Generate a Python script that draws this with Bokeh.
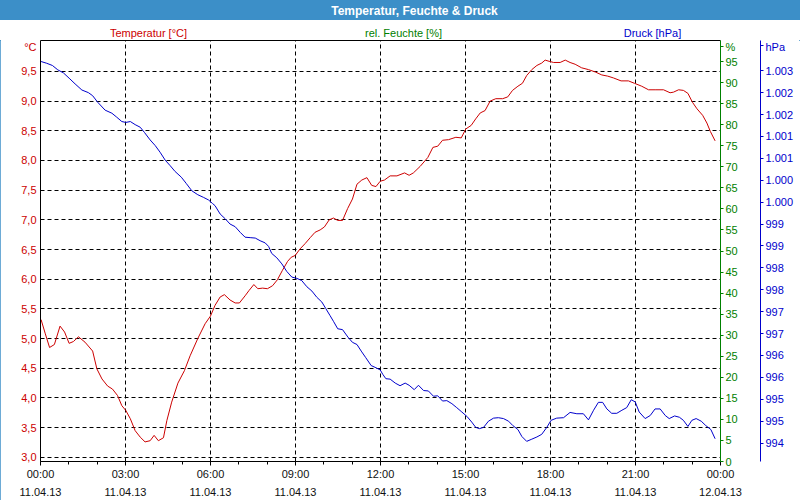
import datetime as dt
from bokeh.plotting import figure
from bokeh.layouts import column
from bokeh.models import Range1d, LinearAxis, FixedTicker, CustomJSTickFormatter
from bokeh.core.properties import value
from bokeh.embed import file_html
from bokeh.resources import INLINE

# ---------------- data ----------------
title_text = "Temperatur, Feuchte & Druck"
series_names = ["Temperatur [°C]", "rel. Feuchte [%]", "Druck [hPa]"]

temp_hours = [0.02, 0.17, 0.32, 0.49, 0.69, 0.85, 1.01, 1.16, 1.34, 1.57, 1.84, 1.99, 2.17, 2.37,
              2.54, 2.72, 2.87, 3.01, 3.17, 3.34, 3.52, 3.69, 3.87, 4.01, 4.16, 4.34, 4.46, 4.63,
              4.85, 5.08, 5.28, 5.55, 5.81, 6.00, 6.16, 6.34, 6.49, 6.69, 6.87, 7.02, 7.22, 7.36,
              7.53, 7.67, 7.84, 8.01, 8.19, 8.36, 8.54, 8.72, 8.85, 8.99, 9.16, 9.34, 9.52, 9.69,
              9.87, 10.02, 10.19, 10.34, 10.49, 10.66, 10.84, 11.01, 11.17, 11.34, 11.52, 11.69,
              11.84, 11.99, 12.14, 12.34, 12.58, 12.85, 13.01, 13.16, 13.40, 13.67, 13.85, 14.02,
              14.19, 14.40, 14.66, 14.85, 15.01, 15.20, 15.36, 15.52, 15.69, 15.87, 16.07, 16.31,
              16.49, 16.66, 16.85, 17.01, 17.16, 17.34, 17.52, 17.69, 17.81, 17.95, 18.11, 18.34,
              18.52, 18.69, 18.87, 19.10, 19.34, 19.58, 19.81, 20.02, 20.22, 20.49, 20.75, 20.96,
              21.22, 21.46, 21.72, 21.99, 22.22, 22.34, 22.52, 22.69, 22.85, 23.01, 23.17, 23.37,
              23.52, 23.64, 23.81]
temp_values = [5.32, 5.08, 4.85, 4.90, 5.21, 5.11, 4.92, 4.95, 5.03, 4.94, 4.79, 4.49, 4.32, 4.20,
               4.15, 4.04, 3.87, 3.79, 3.65, 3.45, 3.34, 3.26, 3.28, 3.37, 3.28, 3.33, 3.62, 3.93,
               4.25, 4.46, 4.71, 5.00, 5.25, 5.38, 5.56, 5.70, 5.74, 5.65, 5.60, 5.60, 5.72, 5.81,
               5.91, 5.84, 5.85, 5.84, 5.89, 5.99, 6.15, 6.30, 6.37, 6.40, 6.51, 6.60, 6.70, 6.79,
               6.83, 6.88, 7.00, 7.03, 6.99, 6.99, 7.19, 7.35, 7.60, 7.67, 7.71, 7.58,
               7.56, 7.65, 7.67, 7.74, 7.74, 7.79, 7.75, 7.79, 7.90, 8.05, 8.22, 8.24,
               8.34, 8.35, 8.39, 8.38, 8.53, 8.59, 8.70, 8.80, 8.84, 9.00, 9.04, 9.04,
               9.07, 9.18, 9.25, 9.30, 9.43, 9.53, 9.60, 9.64, 9.69, 9.67, 9.65, 9.65,
               9.69, 9.65, 9.62, 9.56, 9.53, 9.49, 9.44, 9.42, 9.39, 9.34, 9.34, 9.30,
               9.25, 9.19, 9.19, 9.19, 9.14, 9.15, 9.19, 9.18, 9.13, 8.98, 8.87, 8.76,
               8.63, 8.49, 8.33]

pres_hours = [0.02, 0.22, 0.42, 0.61, 0.81, 1.01, 1.22, 1.46, 1.69, 1.84, 2.02, 2.28, 2.52, 2.69,
              2.87, 3.01, 3.17, 3.34, 3.52, 3.67, 3.87, 4.05, 4.22, 4.40, 4.58, 4.75, 4.97, 5.14,
              5.34, 5.55, 5.75, 5.93, 6.07, 6.16, 6.34, 6.52, 6.69, 6.87, 7.05, 7.22, 7.40, 7.58,
              7.75, 7.93, 8.05, 8.16, 8.34, 8.52, 8.69, 8.87, 9.05, 9.22, 9.40, 9.58, 9.75, 9.93,
              10.07, 10.22, 10.34, 10.49, 10.66, 10.85, 11.01, 11.17, 11.32, 11.48, 11.67, 11.84,
              11.99, 12.08, 12.19, 12.34, 12.52, 12.69, 12.87, 13.01, 13.19, 13.34, 13.52, 13.69,
              13.87, 14.02, 14.19, 14.34, 14.52, 14.69, 14.87, 15.05, 15.22, 15.36, 15.49, 15.64,
              15.81, 15.99, 16.16, 16.34, 16.52, 16.67, 16.85, 16.99, 17.16, 17.34, 17.52, 17.69,
              17.87, 18.02, 18.22, 18.46, 18.69, 18.93, 19.16, 19.34, 19.52, 19.69, 19.84, 19.99,
              20.16, 20.34, 20.52, 20.69, 20.85, 20.99, 21.13, 21.34, 21.52, 21.69, 21.87, 22.05,
              22.19, 22.38, 22.55, 22.69, 22.85, 22.99, 23.14, 23.32, 23.48, 23.66, 23.81]
pres_values = [1002.71, 1002.67, 1002.62, 1002.52, 1002.45, 1002.33, 1002.20, 1002.06, 1002.00,
               1001.93, 1001.78, 1001.60, 1001.53, 1001.44, 1001.34, 1001.32, 1001.34, 1001.27,
               1001.21, 1001.09, 1000.92, 1000.79, 1000.64, 1000.46, 1000.33, 1000.20, 1000.07,
               999.93, 999.76, 999.67, 999.61, 999.55, 999.47, 999.42, 999.23, 999.12, 999.00,
               998.94, 998.81, 998.70, 998.69, 998.68, 998.62, 998.57, 998.49, 998.33, 998.23,
               998.09, 997.92, 997.79, 997.76, 997.71, 997.57, 997.47, 997.33, 997.22, 997.07,
               996.91, 996.78, 996.61, 996.59, 996.42, 996.30, 996.25, 996.10, 995.95, 995.77,
               995.72, 995.67, 995.57, 995.47, 995.46, 995.37, 995.31, 995.37, 995.32, 995.22,
               995.32, 995.20, 995.19, 995.07, 995.08, 994.96, 994.97, 994.90, 994.81, 994.71,
               994.61, 994.48, 994.36, 994.33, 994.36, 994.50, 994.57, 994.58, 994.56, 994.50,
               994.40, 994.31, 994.15, 994.04, 994.09, 994.14, 994.20, 994.36, 994.52, 994.57,
               994.58, 994.70, 994.67, 994.67, 994.53, 994.75, 994.93, 994.93, 994.78, 994.68,
               994.68, 994.75, 994.81, 994.99, 994.94, 994.71, 994.56, 994.63, 994.78, 994.78,
               994.63, 994.56, 994.62, 994.59, 994.52, 994.38, 994.52, 994.56, 994.50, 994.40,
               994.31, 994.10]

temp_ticks = [3.0, 3.5, 4.0, 4.5, 5.0, 5.5, 6.0, 6.5, 7.0, 7.5, 8.0, 8.5, 9.0, 9.5]
temp_tick_labels = ["3,0", "3,5", "4,0", "4,5", "5,0", "5,5", "6,0", "6,5", "7,0", "7,5",
                    "8,0", "8,5", "9,0", "9,5"]
hum_ticks = [0, 5, 10, 15, 20, 25, 30, 35, 40, 45, 50, 55, 60, 65, 70, 75, 80, 85, 90, 95]
hum_tick_labels = ["0", "5", "10", "15", "20", "25", "30", "35", "40", "45", "50", "55", "60",
                   "65", "70", "75", "80", "85", "90", "95"]
pres_ticks = [994.0, 994.5, 995.0, 995.5, 996.0, 996.5, 997.0, 997.5, 998.0, 998.5, 999.0,
              999.5, 1000.0, 1000.5, 1001.0, 1001.5, 1002.0, 1002.5]
pres_tick_labels = ["994", "995", "995", "996", "996", "997", "997", "998", "998", "999", "999",
                    "1.000", "1.000", "1.001", "1.001", "1.002", "1.002", "1.003"]
time_tick_hours = [0, 3, 6, 9, 12, 15, 18, 21, 24]
time_tick_labels = ["00:00\n11.04.13", "03:00\n11.04.13", "06:00\n11.04.13", "09:00\n11.04.13",
                    "12:00\n11.04.13", "15:00\n11.04.13", "18:00\n11.04.13", "21:00\n11.04.13",
                    "00:00\n12.04.13"]
minor_tick_hours = [0, 1, 2, 3, 4, 5, 6, 7, 8, 9, 10, 11, 12, 13, 14, 15, 16, 17, 18, 19, 20,
                    21, 22, 23, 24]
# unit captions at the top end of each axis: (axis value, text)
temp_unit = (9.92, "°C")
hum_unit = (98.6, "%")
pres_unit = (1003.07, "hPa")

# ---------------- style ----------------
FONT = "Liberation Sans"
RED = "#cc0000"
GREEN = "#008000"
BLUE = "#0000cc"
BAR = "#3c8fc8"

base = dt.datetime(2013, 4, 11)
epoch = dt.datetime(1970, 1, 1)


def to_dt(hours):
    return [base + dt.timedelta(hours=h) for h in hours]


def to_ms(hours):
    return [(base + dt.timedelta(hours=h) - epoch).total_seconds() * 1000.0 for h in hours]


W, H = 800, 500
FL, FR = 40, 720          # frame left/right
FT, FB = 40, 461          # frame top/bottom
BAR_H = 20

lookup_code = """
for (let i = 0; i < vals.length; i++) {
  if (Math.abs(vals[i] - tick) < 1e-6 * Math.max(1, Math.abs(tick))) return labs[i];
}
return "";
"""


def strip(height, fill, yr, css=None):
    f = figure(width=W, height=height, x_range=Range1d(FL, FR), y_range=yr,
               x_axis_location=None, y_axis_location=None,
               min_border_left=FL, min_border_right=W - FR, min_border_top=0, min_border_bottom=0,
               output_backend="svg", toolbar_location=None, outline_line_color=None,
               background_fill_color=None, border_fill_color=fill)
    if css:
        f.styles = css
    f.xgrid.visible = False
    f.ygrid.visible = False
    return f


# title bar
bar = strip(BAR_H, BAR, Range1d(BAR_H, 0), css={"background-color": BAR})
bar.text(x=[414], y=[BAR_H / 2 + 0.5], text=[title_text], text_font=value(FONT),
         text_font_size="12px", text_font_style="bold", text_color="white",
         text_align="center", text_baseline="middle")

# series caption row
cap = strip(FT - BAR_H, "white", Range1d(FT, BAR_H), css={"background-color": "white"})
series_colors = [RED, GREEN, BLUE]
series_x = [148, 403, 652]
cap.text(x=series_x, y=[32, 32, 32], text=series_names, text_font=value(FONT),
         text_font_size="11px", text_color=series_colors, text_align="center",
         text_baseline="middle")

# ---------------- main plot ----------------
p = figure(width=W, height=H - FT, x_axis_type="datetime",
           x_range=Range1d(base, base + dt.timedelta(hours=24)),
           y_range=Range1d(2.93, 10.02),
           output_backend="svg", toolbar_location=None,
           min_border_left=FL, min_border_right=W - FR,
           min_border_top=0, min_border_bottom=H - FB,
           background_fill_color="white", border_fill_color="white",
           outline_line_color=None)
p.extra_y_ranges = {"hum": Range1d(0, 100), "pres": Range1d(993.58, 1003.19)}

# x axis
xa = p.xaxis[0]
xa.ticker = FixedTicker(ticks=to_ms(time_tick_hours), minor_ticks=to_ms(minor_tick_hours))
xa.formatter = CustomJSTickFormatter(args=dict(vals=to_ms(time_tick_hours), labs=time_tick_labels),
                                     code=lookup_code)
xa.axis_line_color = "black"
xa.major_tick_line_color = "black"
xa.minor_tick_line_color = "black"
xa.major_tick_out = 4
xa.major_tick_in = 0
xa.minor_tick_out = 3
xa.minor_tick_in = 0
xa.major_label_text_font = FONT
xa.major_label_text_font_size = "11px"
xa.major_label_text_line_height = 1.5
xa.major_label_text_color = "#101010"
xa.major_label_standoff = 2

# left temperature axis (+ unit caption at its top)
ya = p.yaxis[0]
ya.ticker = FixedTicker(ticks=temp_ticks + [temp_unit[0]])
ya.formatter = CustomJSTickFormatter(args=dict(vals=temp_ticks + [temp_unit[0]],
                                               labs=temp_tick_labels + [temp_unit[1]]),
                                     code=lookup_code)
ya.axis_line_color = "black"
ya.major_tick_out = 0
ya.major_tick_in = 0
ya.minor_tick_line_color = None
ya.major_label_text_font = FONT
ya.major_label_text_font_size = "11px"
ya.major_label_text_color = RED
ya.major_label_standoff = 4

# top frame line
top_axis = LinearAxis(ticker=FixedTicker(ticks=[]), axis_line_color="black",
                      major_tick_line_color=None, minor_tick_line_color=None,
                      major_tick_out=0, major_tick_in=0, major_label_standoff=0,
                      major_label_text_font_size="0px")
p.add_layout(top_axis, "above")

# humidity axis
hum_axis = LinearAxis(y_range_name="hum", ticker=FixedTicker(ticks=hum_ticks + [hum_unit[0]]),
                      formatter=CustomJSTickFormatter(
                          args=dict(vals=hum_ticks + [hum_unit[0]],
                                    labs=hum_tick_labels + [hum_unit[1]]),
                          code=lookup_code),
                      axis_line_color=GREEN, axis_line_width=1,
                      major_tick_line_color=GREEN, major_tick_out=3, major_tick_in=0,
                      minor_tick_line_color=None,
                      major_label_text_color=GREEN, major_label_text_font=FONT,
                      major_label_text_font_size="11px", major_label_standoff=2,
                      axis_label=" ", axis_label_standoff=3,
                      axis_label_text_font_size="12px")
p.add_layout(hum_axis, "right")

# pressure axis
pres_axis = LinearAxis(y_range_name="pres", ticker=FixedTicker(ticks=pres_ticks + [pres_unit[0]]),
                       formatter=CustomJSTickFormatter(
                           args=dict(vals=pres_ticks + [pres_unit[0]],
                                     labs=pres_tick_labels + [pres_unit[1]]),
                           code=lookup_code),
                       axis_line_color=BLUE, major_tick_line_color=BLUE,
                       major_tick_out=3, major_tick_in=0, minor_tick_line_color=None,
                       major_label_text_color=BLUE, major_label_text_font=FONT,
                       major_label_text_font_size="11px", major_label_standoff=2)
p.add_layout(pres_axis, "right")

# grids
p.xgrid[0].ticker = FixedTicker(ticks=to_ms(time_tick_hours))
p.ygrid[0].ticker = FixedTicker(ticks=temp_ticks)
for g in (p.xgrid[0], p.ygrid[0]):
    g.grid_line_color = "black"
    g.grid_line_dash = "4 3"
    g.grid_line_width = 1

# series
p.line(x=to_dt(temp_hours), y=temp_values, line_color=RED, line_width=1)
p.line(x=to_dt(pres_hours), y=pres_values, y_range_name="pres", line_color=BLUE, line_width=1)

layout = column(bar, cap, p, spacing=0,
                styles={"outline": "1px solid " + BAR, "outline-offset": "-1px"})
open("out.html", "w").write(file_html(layout, INLINE))
